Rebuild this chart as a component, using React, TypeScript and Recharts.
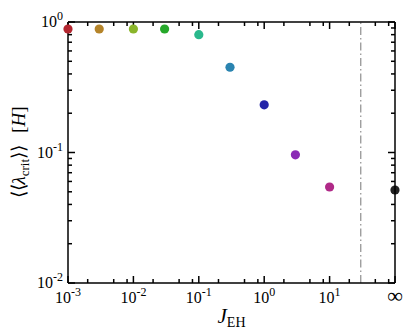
import { ScatterChart, Scatter, XAxis, YAxis, ReferenceLine, Cell } from "recharts";

// J_EH values; 100 stands in for J = infinity (drawn with an ∞ label)
const couplings = [0.001, 0.003, 0.01, 0.03, 0.1, 0.3, 1, 3, 10, 100];
const lambdaCrit = [0.884, 0.884, 0.884, 0.884, 0.8, 0.45, 0.232, 0.096, 0.0544, 0.0516];
const pointColors = [
  "#b3262f",
  "#b5842a",
  "#8ab52a",
  "#26a82a",
  "#2ab88c",
  "#2a84b0",
  "#2424a8",
  "#8a2ab5",
  "#b02a88",
  "#222222",
];

const infinityAt = 100;
const cutoffJ = 30;
const xMajor = [0.001, 0.01, 0.1, 1, 10, 100];
const xMinorSteps = [2, 5, 8];
const yMajor = [0.01, 0.1, 1];
const yMinorSteps = [2, 3, 4, 5, 6, 7, 8, 9];

const data = couplings.map((j, i) => ({ j, lambda: lambdaCrit[i] }));

const minorOf = (majors: number[], steps: number[]) =>
  majors.slice(0, -1).flatMap((m) => steps.map((s) => +(m * s).toPrecision(6)));
const xTicks = [...xMajor, ...minorOf(xMajor, xMinorSteps)].sort((a, b) => a - b);
const yTicks = [...yMajor, ...minorOf(yMajor, yMinorSteps)].sort((a, b) => a - b);
const xDomain = [xMajor[0], xMajor[xMajor.length - 1]];
const yDomain = [yMajor[0], yMajor[yMajor.length - 1]];

// chart box
const W = 415;
const H = 332;
const margin = { top: 22, right: 20, bottom: 0, left: 0 };
const xAxisH = 49;
const yAxisW = 68;
const plotW = W - margin.left - margin.right - yAxisW;
const plotH = H - margin.top - margin.bottom - xAxisH;

// decades per pixel, so inward tick marks can be laid out on the log axes
const kx = Math.log10(xDomain[1] / xDomain[0]) / plotW;
const ky = Math.log10(yDomain[1] / yDomain[0]) / plotH;

const isMajor = (v: number) => Math.abs(Math.log10(v) - Math.round(Math.log10(v))) < 1e-6;
const tickLen = (v: number) => (isMajor(v) ? 7 : 4);
const serif = "Liberation Serif, Times New Roman, serif";

function PowerLabel({ x, y, v, anchor }: any) {
  if (v === infinityAt) {
    return (
      <text x={x} y={y} textAnchor={anchor} fontFamily={serif} fontSize={22} fill="#000">
        ∞
      </text>
    );
  }
  const exp = Math.round(Math.log10(v));
  return (
    <text x={x} y={y} textAnchor={anchor} fontFamily={serif} fontSize={16} fill="#000">
      <tspan>10</tspan>
      <tspan dy={-7} fontSize={12}>
        {exp}
      </tspan>
    </text>
  );
}

// bottom labels; the last tick also closes the frame on the right
function XTick(props: any) {
  const { x, y, payload } = props;
  return (
    <g>
      {payload.value === infinityAt && (
        <line x1={x} x2={x} y1={y - plotH} y2={y} stroke="#000" strokeWidth={1.5} />
      )}
      {isMajor(payload.value) && <PowerLabel x={x} y={y + 20} v={payload.value} anchor="middle" />}
    </g>
  );
}

// left labels; the top tick also closes the frame on top
function YTick(props: any) {
  const { x, y, payload } = props;
  return (
    <g>
      {payload.value === yDomain[1] && (
        <line x1={x} x2={x + plotW} y1={y} y2={y} stroke="#000" strokeWidth={1.5} />
      )}
      {isMajor(payload.value) && <PowerLabel x={x - 5} y={y + 5} v={payload.value} anchor="end" />}
    </g>
  );
}

function XTitle({ viewBox }: any) {
  const cx = viewBox.x + viewBox.width / 2;
  return (
    <text x={cx} y={viewBox.y + 40} textAnchor="middle" fontFamily={serif} fontSize={21}>
      <tspan fontStyle="italic">J</tspan>
      <tspan dy={4} fontSize={14}>
        EH
      </tspan>
    </text>
  );
}

function YTitle({ viewBox }: any) {
  const cy = viewBox.y + viewBox.height / 2;
  return (
    <text
      transform={`translate(25,${cy}) rotate(-90)`}
      textAnchor="middle"
      fontFamily={serif}
      fontSize={19}
    >
      <tspan>⟨⟨</tspan>
      <tspan fontStyle="italic">λ</tspan>
      <tspan dy={4} fontSize={13}>
        crit
      </tspan>
      <tspan dy={-4}>⟩⟩</tspan>
      <tspan dx={12}>[</tspan>
      <tspan fontStyle="italic">H</tspan>
      <tspan>]</tspan>
    </text>
  );
}

const axisLine = { stroke: "#000", strokeWidth: 1.5 };
const markStyle = { stroke: "#000", strokeWidth: 1.5 };

export default function App() {
  return (
    <div style={{ position: "absolute", left: 0, top: 0, background: "#fff" }}>
      <ScatterChart width={W} height={H} margin={margin}>
        <XAxis
          dataKey="j"
          type="number"
          scale="log"
          domain={xDomain}
          ticks={xTicks}
          interval={0}
          tickSize={0}
          tickMargin={0}
          tickLine={false}
          axisLine={axisLine}
          height={xAxisH}
          tick={<XTick />}
          label={(p: any) => <XTitle {...p} />}
        />
        <YAxis
          dataKey="lambda"
          type="number"
          scale="log"
          domain={yDomain}
          ticks={yTicks}
          interval={0}
          tickSize={0}
          tickMargin={0}
          tickLine={false}
          axisLine={axisLine}
          width={yAxisW}
          tick={<YTick />}
          label={(p: any) => <YTitle {...p} />}
        />
        {/* inward tick marks on all four sides */}
        {xTicks.map((v) => (
          <ReferenceLine
            key={`xb${v}`}
            segment={[
              { x: v, y: yDomain[0] },
              { x: v, y: yDomain[0] * 10 ** (tickLen(v) * ky) },
            ]}
            {...markStyle}
          />
        ))}
        {xTicks.map((v) => (
          <ReferenceLine
            key={`xt${v}`}
            segment={[
              { x: v, y: yDomain[1] },
              { x: v, y: yDomain[1] / 10 ** (tickLen(v) * ky) },
            ]}
            {...markStyle}
          />
        ))}
        {yTicks.map((v) => (
          <ReferenceLine
            key={`yl${v}`}
            segment={[
              { x: xDomain[0], y: v },
              { x: xDomain[0] * 10 ** (tickLen(v) * kx), y: v },
            ]}
            {...markStyle}
          />
        ))}
        {yTicks.map((v) => (
          <ReferenceLine
            key={`yr${v}`}
            segment={[
              { x: xDomain[1], y: v },
              { x: xDomain[1] / 10 ** (tickLen(v) * kx), y: v },
            ]}
            {...markStyle}
          />
        ))}
        <ReferenceLine x={cutoffJ} stroke="#777" strokeWidth={1} strokeDasharray="8 3 1.5 3" />
        <Scatter
          data={data}
          isAnimationActive={false}
          shape={(p: any) => <circle cx={p.cx} cy={p.cy} r={4.6} fill={p.fill} />}
        >
          {data.map((d, i) => (
            <Cell key={d.j} fill={pointColors[i]} />
          ))}
        </Scatter>
      </ScatterChart>
    </div>
  );
}
